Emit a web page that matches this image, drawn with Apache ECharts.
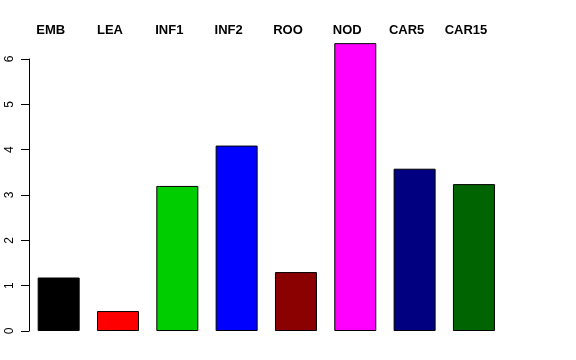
<!DOCTYPE html>
<html><head><meta charset="utf-8">
<script src="https://cdn.jsdelivr.net/npm/echarts@6/dist/echarts.min.js"></script>
<style>html,body{margin:0;padding:0;background:#fff}#c{width:576px;height:360px}</style>
</head><body><div id="c"></div>
<script>
const categories = ['EMB','LEA','INF1','INF2','ROO','NOD','CAR5','CAR15'];
const values = [1.18, 0.44, 3.20, 4.09, 1.30, 6.35, 3.58, 3.24];
const colors = ['#000000','#ff0000','#00cd00','#0000ff','#8b0000','#ff00ff','#000080','#006400'];
const yTicks = [0,1,2,3,4,5,6];

const chart = echarts.init(document.getElementById('c'));
chart.setOption({
  animation:false,
  backgroundColor:'#fff',
  grid:{left:29, right:72.4, top:59, bottom:29, containLabel:false},
  xAxis:{type:'category', data:categories, position:'top',
    axisLine:{show:false}, axisTick:{show:false},
    axisLabel:{fontFamily:'Liberation Sans, Arial, sans-serif', fontWeight:'bold', fontSize:13, color:'#000', margin:22, padding:[0,16,0,0], interval:0}},
  yAxis:{type:'value', min:yTicks[0], max:yTicks[yTicks.length-1], interval:1,
    splitLine:{show:false},
    axisLine:{show:true, lineStyle:{color:'#000', width:1}},
    axisTick:{show:true, length:8, lineStyle:{color:'#000'}},
    axisLabel:{rotate:90, fontFamily:'Liberation Sans, Arial, sans-serif', fontSize:12, color:'#000', margin:13}},
  series:[{type:'bar', clip:false, barWidth:42,
    data: values.map((v,i)=>({value:v, itemStyle:{color:colors[i]}})),
    itemStyle:{borderColor:'#000', borderWidth:1}}]
});
</script></body></html>
